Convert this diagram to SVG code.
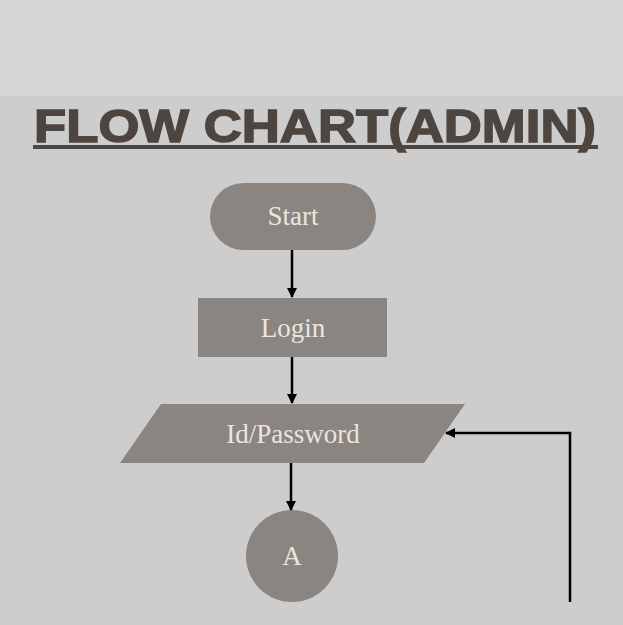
<svg xmlns="http://www.w3.org/2000/svg" width="623" height="625" viewBox="0 0 623 625">
<style>
.shape{fill:#8a8581}
.lbl{font-family:"Liberation Serif",serif;font-size:27px;fill:#ebe5df;text-anchor:middle}
.conn{stroke:#000;stroke-width:2.5;fill:none}
</style>
<defs>
<marker id="ah" viewBox="0 0 10 10" refX="9" refY="5" markerWidth="4" markerHeight="4" orient="auto">
<path d="M0,0 L10,5 L0,10 z" fill="#000"/>
</marker>
</defs>
<rect width="623" height="625" fill="#cdcdcd"/>
<rect width="623" height="96" fill="#d6d6d8"/>
<g id="title">
<text x="34" y="142" font-family="Liberation Sans,Arial,sans-serif" font-weight="900" font-size="47" fill="#4d4540" textLength="562" lengthAdjust="spacingAndGlyphs" stroke="#4d4540" stroke-width="1.5">FLOW CHART(ADMIN)</text>
<rect x="33" y="145" width="565" height="4" fill="#4d4540"/>
</g>
<g id="start">
<rect class="shape" x="210" y="183" width="166" height="67" rx="33.5"/>
<text class="lbl" x="293" y="225">Start</text>
</g>
<g id="login">
<rect class="shape" x="198" y="298" width="189" height="59"/>
<text class="lbl" x="293" y="337">Login</text>
</g>
<g id="idpassword">
<polygon class="shape" points="161,404 465,404 424,463 120,463"/>
<text class="lbl" x="293" y="443">Id/Password</text>
</g>
<g id="connectorA">
<circle class="shape" cx="292" cy="556" r="46"/>
<text class="lbl" x="292" y="565">A</text>
</g>
<g id="connectors">
<line class="conn" x1="292" y1="250" x2="292" y2="297" marker-end="url(#ah)"/>
<line class="conn" x1="292" y1="357" x2="292" y2="403" marker-end="url(#ah)"/>
<line class="conn" x1="291" y1="463" x2="291" y2="510" marker-end="url(#ah)"/>
<polyline class="conn" points="570,602 570,433 446,433" marker-end="url(#ah)"/>
</g>
</svg>
